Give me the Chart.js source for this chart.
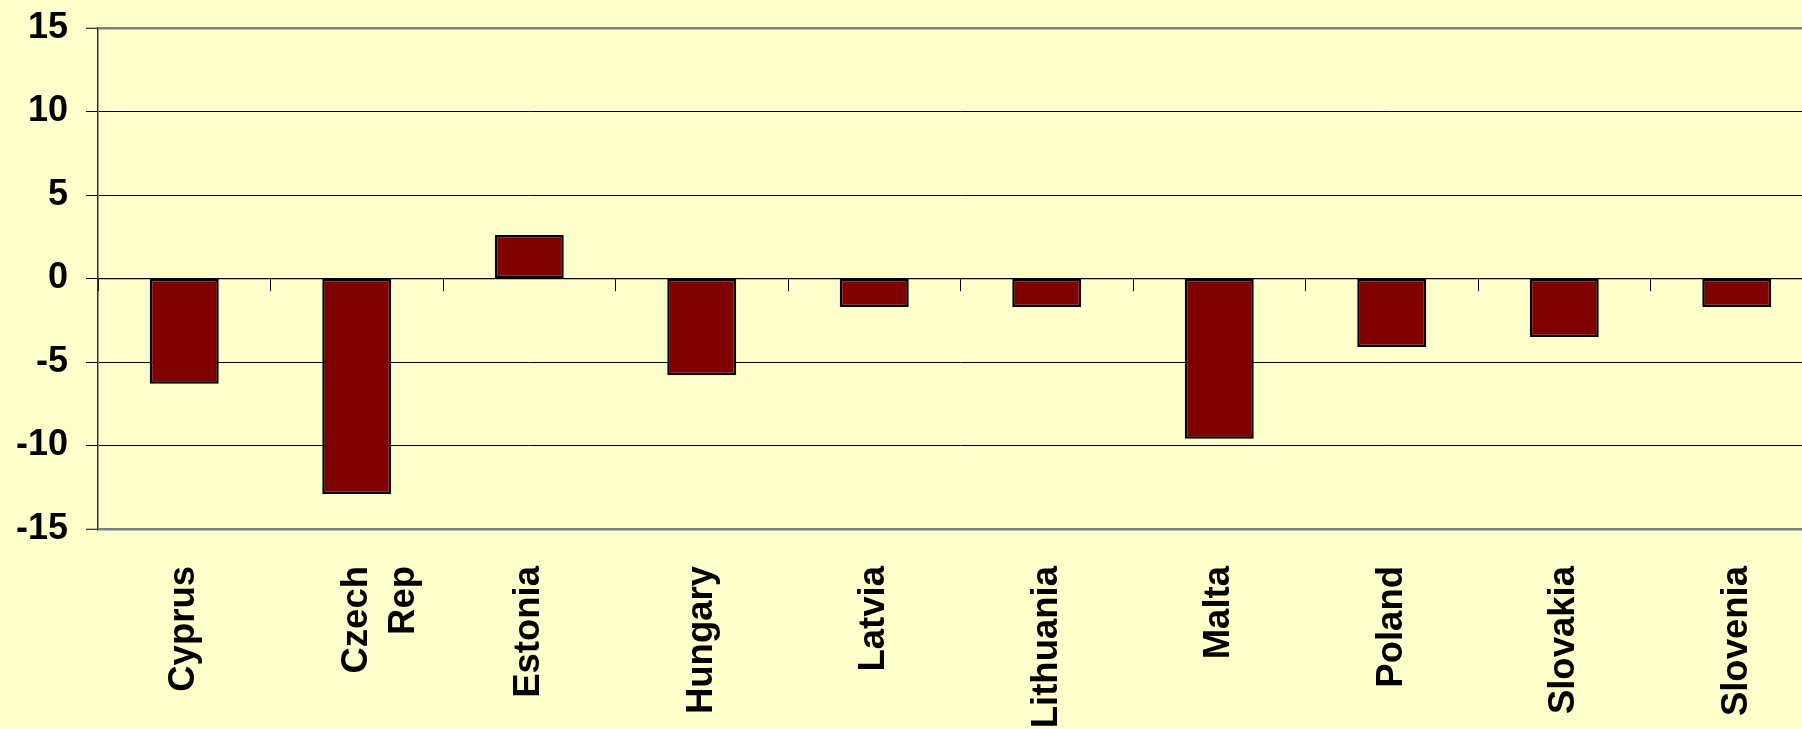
<!DOCTYPE html>
<html>
<head>
<meta charset="utf-8">
<script src="https://cdn.jsdelivr.net/npm/chart.js@4/dist/chart.umd.min.js"></script>
<style>
  html, body { margin: 0; padding: 0; background: #FFFFCC; overflow: hidden; width: 1802px; height: 729px; }
  #wrap { position: absolute; left: 0; top: 0; width: 1823px; height: 729px; }
</style>
</head>
<body>
<div id="wrap"><canvas id="c"></canvas></div>
<script>
const categories = ["Cyprus", ["Czech", "Rep"], "Estonia", "Hungary", "Latvia", "Lithuania", "Malta", "Poland", "Slovakia", "Slovenia"];
const values = [-6.3, -12.9, 2.6, -5.8, -1.7, -1.7, -9.6, -4.1, -3.5, -1.7];
const yMin = -15, yMax = 15, yStep = 5;

const labelFont = { family: "'Liberation Sans', Arial, sans-serif", size: 36.5, weight: 'bold', lineHeight: 1.3 };

new Chart(document.getElementById('c'), {
  type: 'bar',
  data: {
    labels: categories,
    datasets: [{
      data: values,
      backgroundColor: '#800000',
      borderColor: '#000000',
      borderWidth: 2.5,
      borderSkipped: false,
      categoryPercentage: 1.0,
      barPercentage: 0.4
    }]
  },
  options: {
    responsive: true,
    maintainAspectRatio: false,
    animation: false,
    layout: { padding: { top: 28, right: 0, bottom: 0, left: 0 } },
    plugins: { legend: { display: false }, tooltip: { enabled: false } },
    scales: {
      x: {
        type: 'category',
        position: 'bottom',
        offset: true,
        grid: { display: false, drawTicks: false, offset: true },
        border: { display: false },
        ticks: {
          autoSkip: false,
          minRotation: 90,
          maxRotation: 90,
          padding: 37,
          color: '#000',
          font: labelFont
        },
        afterFit: (s) => { s.height = 200; s.paddingLeft = 0; s.paddingRight = 0; }
      },
      xz: {
        type: 'category',
        position: { y: 0 },
        offset: true,
        grid: { display: true, drawOnChartArea: false, drawTicks: true, tickLength: 12, color: '#000', lineWidth: 1, offset: true },
        border: { display: true, color: '#000', width: 1.2 },
        ticks: { display: false }
      },
      y: {
        type: 'linear',
        min: yMin,
        max: yMax,
        ticks: {
          stepSize: yStep,
          padding: 18,
          color: '#000',
          font: { family: "'Liberation Sans', Arial, sans-serif", size: 36, weight: 'bold' }
        },
        grid: {
          color: (ctx) => (ctx.tick && (ctx.tick.value === yMax || ctx.tick.value === yMin)) ? '#808080' : '#000',
          lineWidth: (ctx) => (ctx.tick && (ctx.tick.value === yMax || ctx.tick.value === yMin)) ? 2.5 : 1,
          tickColor: '#000',
          tickWidth: 1,
          tickLength: 12
        },
        border: { display: true, color: '#333', width: 1.5 },
        afterFit: (s) => { s.width = 98; s.paddingTop = 0; s.paddingBottom = 0; }
      }
    }
  }
});
</script>
</body>
</html>
